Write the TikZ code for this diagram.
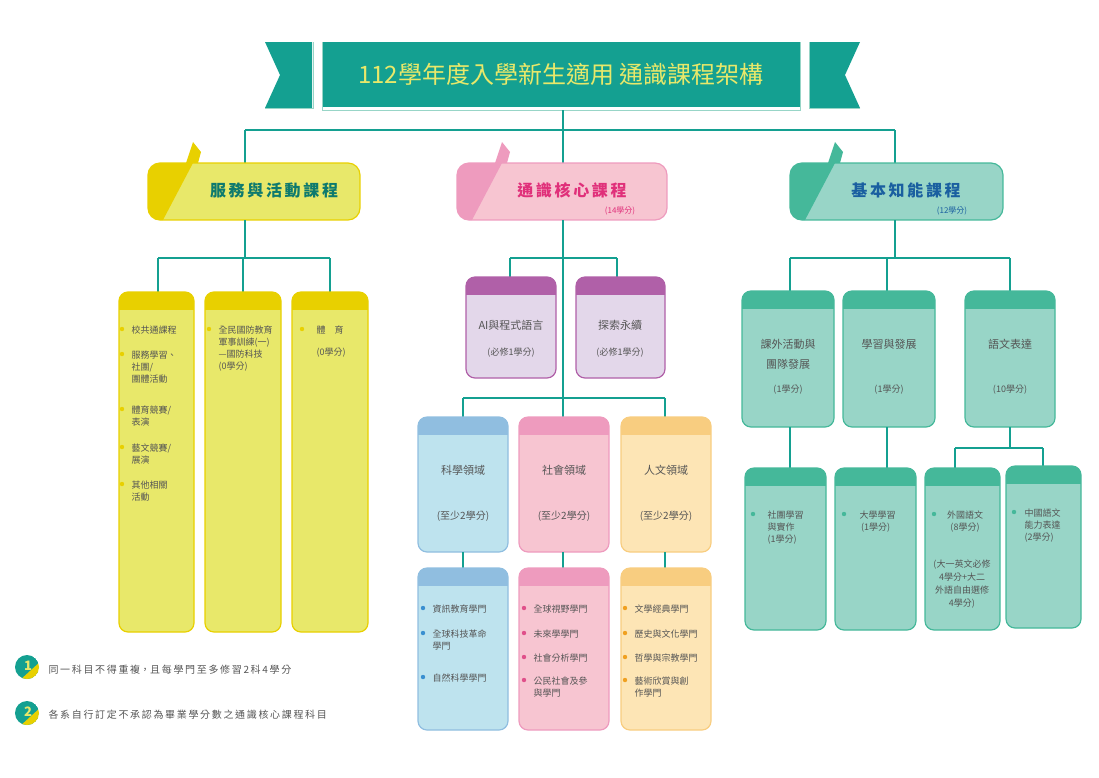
\documentclass[tikz,border=0pt]{standalone}
\usepackage{fontspec}
\setmainfont{Noto Sans CJK TC}
\usetikzlibrary{calc}
\definecolor{teal}{HTML}{14A091}
\definecolor{tealL}{HTML}{98D5C7}
\definecolor{tealD}{HTML}{45B89A}
\definecolor{yelL}{HTML}{E8E86A}
\definecolor{yelD}{HTML}{E8D000}
\definecolor{pinkL}{HTML}{F7C5D1}
\definecolor{pinkD}{HTML}{EE9BBE}
\definecolor{purD}{HTML}{B060A8}
\definecolor{purL}{HTML}{E3D7EA}
\definecolor{bluD}{HTML}{90BEE0}
\definecolor{bluL}{HTML}{BEE3EE}
\definecolor{oraD}{HTML}{F8CD80}
\definecolor{oraL}{HTML}{FDE5B5}
\definecolor{txt}{HTML}{555555}
\newcommand{\colbox}[7]{% name,x1,y1,x2,y2,dark,light
  \fill[#7,rounded corners=9pt,draw=#6,line width=1.2pt] (#2,#3) rectangle (#4,#5);
  \begin{scope}
    \clip[rounded corners=9pt] (#2,#3) rectangle (#4,#5);
    \fill[#6] (#2,#3) rectangle (#4,#3+18);
  \end{scope}
  \coordinate (#1) at ($(#2,#3)!0.5!(#4,#3)$);}
\tikzset{ln/.style={teal,line width=1.3pt},
  it/.style={font=\fontsize{9}{12}\selectfont,text=txt,align=left,anchor=north west},
  ct/.style={font=\fontsize{11}{16}\selectfont,text=txt,align=center}}
\begin{document}
\begin{tikzpicture}[x=1pt,y=-1pt]
\useasboundingbox (0,0) rectangle (1099,777);
% title banner
\fill[teal] (265,42) -- (312,42) -- (312,108) -- (265,108) -- (280,75) -- cycle;
\draw[tealL,line width=1pt] (265,108)--(313,108)--(313,42);
\fill[teal] (860,42) -- (810,42) -- (810,108) -- (860,108) -- (845,75) -- cycle;
\draw[tealL,line width=1pt] (860,108)--(809,108)--(809,42);
\fill[teal] (322,42) rectangle (800,107);
\draw[tealL,line width=1pt] (322,42)--(322,110)--(800,110)--(800,42);
\node (title) at (561,74) {\fontsize{24}{28}\selectfont\color{yelL}112學年度入學新生適用 通識課程架構};
\coordinate (t) at (563,110);
% top connectors
\draw[ln] (t) -- (563,130) (245,130) -- (895,130) (245,130) -- (245,163) (895,130) -- (895,163) (563,130)--(563,163);
% category boxes
\newcommand{\cat}[6]{% x1,x2,dark,light,text,color
  \fill[#3] (#1+38,163) -- (#1+45,142) -- (#1+53,152) -- (#1+50,163) -- cycle;
  \begin{scope}\clip[rounded corners=12pt] (#1,163) rectangle (#2,220);
  \fill[#4] (#1,163) rectangle (#2,220);
  \fill[#3] (#1,163) -- (#1+45,163) -- (#1+15,220) -- (#1,220) -- cycle;\end{scope}
  \draw[#3,line width=1.2pt,rounded corners=12pt] (#1,163) rectangle (#2,220);}
\cat{148}{360}{yelD}{yelL}{}{}
\cat{457}{667}{pinkD}{pinkL}{}{}
\cat{790}{1003}{tealD}{tealL}{}{}
\node (c1) at (274,190) {\fontsize{16}{18}\selectfont\bfseries\color[HTML]{0E7A6E}服\,務\,與\,活\,動\,課\,程};
\node (c2) at (572,190) {\fontsize{16}{18}\selectfont\bfseries\color[HTML]{E0307A}通\,識\,核\,心\,課\,程};
\node at (620,211) {\fontsize{8}{9}\selectfont\color[HTML]{E0307A}(14學分)};
\node (c3) at (906,190) {\fontsize{16}{18}\selectfont\bfseries\color[HTML]{1A5FA0}基\,本\,知\,能\,課\,程};
\node at (952,211) {\fontsize{8}{9}\selectfont\color[HTML]{1A5FA0}(12學分)};
% yellow columns
\draw[ln] (245,220)--(245,258) (158,258)--(330,258) (158,258)--(158,292) (243,258)--(243,292) (330,258)--(330,292);
\colbox{y1}{119}{292}{194}{632}{yelD}{yelL}
\colbox{y2}{205}{292}{281}{632}{yelD}{yelL}
\colbox{y3}{292}{292}{368}{632}{yelD}{yelL}
\newcommand{\bul}[3]{\fill[#3] (#1-5,#2+7) circle (2.2pt);}
\bul{127}{322}{yelD}\bul{127}{347}{yelD}\bul{127}{402}{yelD}\bul{127}{440}{yelD}\bul{127}{477}{yelD}
\node[it] at (128,322) {校共通課程};
\node[it] at (128,347) {服務學習、\\社團/\\團體活動};
\node[it] at (128,402) {體育競賽/\\表演};
\node[it] at (128,440) {藝文競賽/\\展演};
\node[it] at (128,477) {其他相關\\活動};
\bul{214}{322}{yelD}
\node[it] at (215,322) {全民國防教育\\軍事訓練(一)\\—國防科技\\(0學分)};
\bul{307}{322}{yelD}
\node[it] at (313,322) {體\quad 育};
\node[it] at (313,344) {(0學分)};
% core
\draw[ln] (563,220)--(563,398) (510,258)--(617,258) (510,258)--(510,277) (617,258)--(617,277);
\colbox{a1}{466}{277}{556}{378}{purD}{purL}
\colbox{a2}{576}{277}{665}{378}{purD}{purL}
\node[ct] at (511,325) {AI與程式語言};
\node[ct,font=\fontsize{9}{12}\selectfont] at (511,353) {(必修1學分)};
\node[ct] at (620,325) {探索永續};
\node[ct,font=\fontsize{9}{12}\selectfont] at (620,353) {(必修1學分)};
\draw[ln] (463,398)--(665,398) (463,398)--(463,417) (665,398)--(665,417) (563,398)--(563,417);
\colbox{b1}{418}{417}{508}{552}{bluD}{bluL}
\colbox{b2}{519}{417}{609}{552}{pinkD}{pinkL}
\colbox{b3}{621}{417}{711}{552}{oraD}{oraL}
\node[ct] at (463,470) {科學領域}; \node[ct,font=\fontsize{10}{12}\selectfont] at (463,516) {(至少2學分)};
\node[ct] at (564,470) {社會領域}; \node[ct,font=\fontsize{10}{12}\selectfont] at (564,516) {(至少2學分)};
\node[ct] at (666,470) {人文領域}; \node[ct,font=\fontsize{10}{12}\selectfont] at (666,516) {(至少2學分)};
\draw[ln] (463,552)--(463,568) (563,552)--(563,568) (665,552)--(665,568);
\colbox{d1}{418}{568}{508}{730}{bluD}{bluL}
\colbox{d2}{519}{568}{609}{730}{pinkD}{pinkL}
\colbox{d3}{621}{568}{711}{730}{oraD}{oraL}
\def\bb{3A8FD0}\definecolor{bb}{HTML}{3A8FD0}\definecolor{pp}{HTML}{E0508A}\definecolor{oo}{HTML}{F0A020}
\bul{428}{601}{bb}\bul{428}{626}{bb}\bul{428}{670}{bb}
\node[it] at (429,601) {資訊教育學門}; \node[it] at (429,626) {全球科技革命\\學門}; \node[it] at (429,670) {自然科學學門};
\bul{529}{601}{pp}\bul{529}{626}{pp}\bul{529}{650}{pp}\bul{529}{673}{pp}
\node[it] at (530,601) {全球視野學門}; \node[it] at (530,626) {未來學學門}; \node[it] at (530,650) {社會分析學門}; \node[it] at (530,673) {公民社會及參\\與學門};
\bul{630}{601}{oo}\bul{630}{626}{oo}\bul{630}{650}{oo}\bul{630}{673}{oo}
\node[it] at (631,601) {文學經典學門}; \node[it] at (631,626) {歷史與文化學門}; \node[it] at (631,650) {哲學與宗教學門}; \node[it] at (631,673) {藝術欣賞與創\\作學門};
% basic
\draw[ln] (895,220)--(895,258) (790,258)--(1010,258) (790,258)--(790,291) (887,258)--(887,291) (1010,258)--(1010,291);
\colbox{e1}{742}{291}{834}{427}{tealD}{tealL}
\colbox{e2}{843}{291}{935}{427}{tealD}{tealL}
\colbox{e3}{965}{291}{1055}{427}{tealD}{tealL}
\node[ct,font=\fontsize{11}{20}\selectfont] at (788,354) {課外活動與\\團隊發展};
\node[ct,font=\fontsize{9}{12}\selectfont] at (788,390) {(1學分)};
\node[ct] at (889,344) {學習與發展};
\node[ct,font=\fontsize{9}{12}\selectfont] at (889,390) {(1學分)};
\node[ct] at (1010,344) {語文表達};
\node[ct,font=\fontsize{9}{12}\selectfont] at (1010,390) {(10學分)};
\draw[ln] (790,427)--(790,468) (887,427)--(887,468) (1010,427)--(1010,448) (955,448)--(1043,448) (955,448)--(955,468) (1043,448)--(1043,466);
\colbox{f1}{745}{468}{826}{630}{tealD}{tealL}
\colbox{f2}{835}{468}{916}{630}{tealD}{tealL}
\colbox{f3}{925}{468}{1000}{630}{tealD}{tealL}
\colbox{f4}{1006}{466}{1081}{628}{tealD}{tealL}
\bul{758}{507}{tealD}\node[it] at (764,507) {社團學習\\與實作\\(1學分)};
\bul{849}{507}{tealD}\node[it] at (856,507) {大學學習\\\,(1學分)};
\bul{939}{507}{tealD}\node[ct,font=\fontsize{9}{12}\selectfont,anchor=north] at (965,507) {外國語文\\(8學分)};
\node[ct,font=\fontsize{9}{13}\selectfont,anchor=north] at (962,556) {(大一英文必修\\4學分+大二\\外語自由選修\\4學分)};
\bul{1019}{505}{tealD}\node[it] at (1021,505) {中國語文\\能力表達\\(2學分)};
% notes
\newcommand{\badge}[3]{\begin{scope}\clip (#1,#2) circle (12);
 \fill[teal] (#1,#2) circle (12); \fill[yelD] (#1+14,#2-6) -- (#1+14,#2+14) -- (#1-8,#2+14) -- cycle;\end{scope}
 \node[font=\fontsize{13}{14}\selectfont\bfseries,text=yelL] at (#1+1,#2-1) {#3};}
\badge{27}{667}{1}\badge{27}{713}{2}
\node[anchor=west,font=\fontsize{10}{12}\selectfont,text=txt] (n1) at (45,670) {同\,一\,科\,目\,不\,得\,重\,複，且\,每\,學\,門\,至\,多\,修\,習\,2\,科\,4\,學\,分};
\node[anchor=west,font=\fontsize{10}{12}\selectfont,text=txt] (n2) at (45,715) {各\,系\,自\,行\,訂\,定\,不\,承\,認\,為\,畢\,業\,學\,分\,數\,之\,通\,識\,核\,心\,課\,程\,科\,目};
\end{tikzpicture}
\end{document}
